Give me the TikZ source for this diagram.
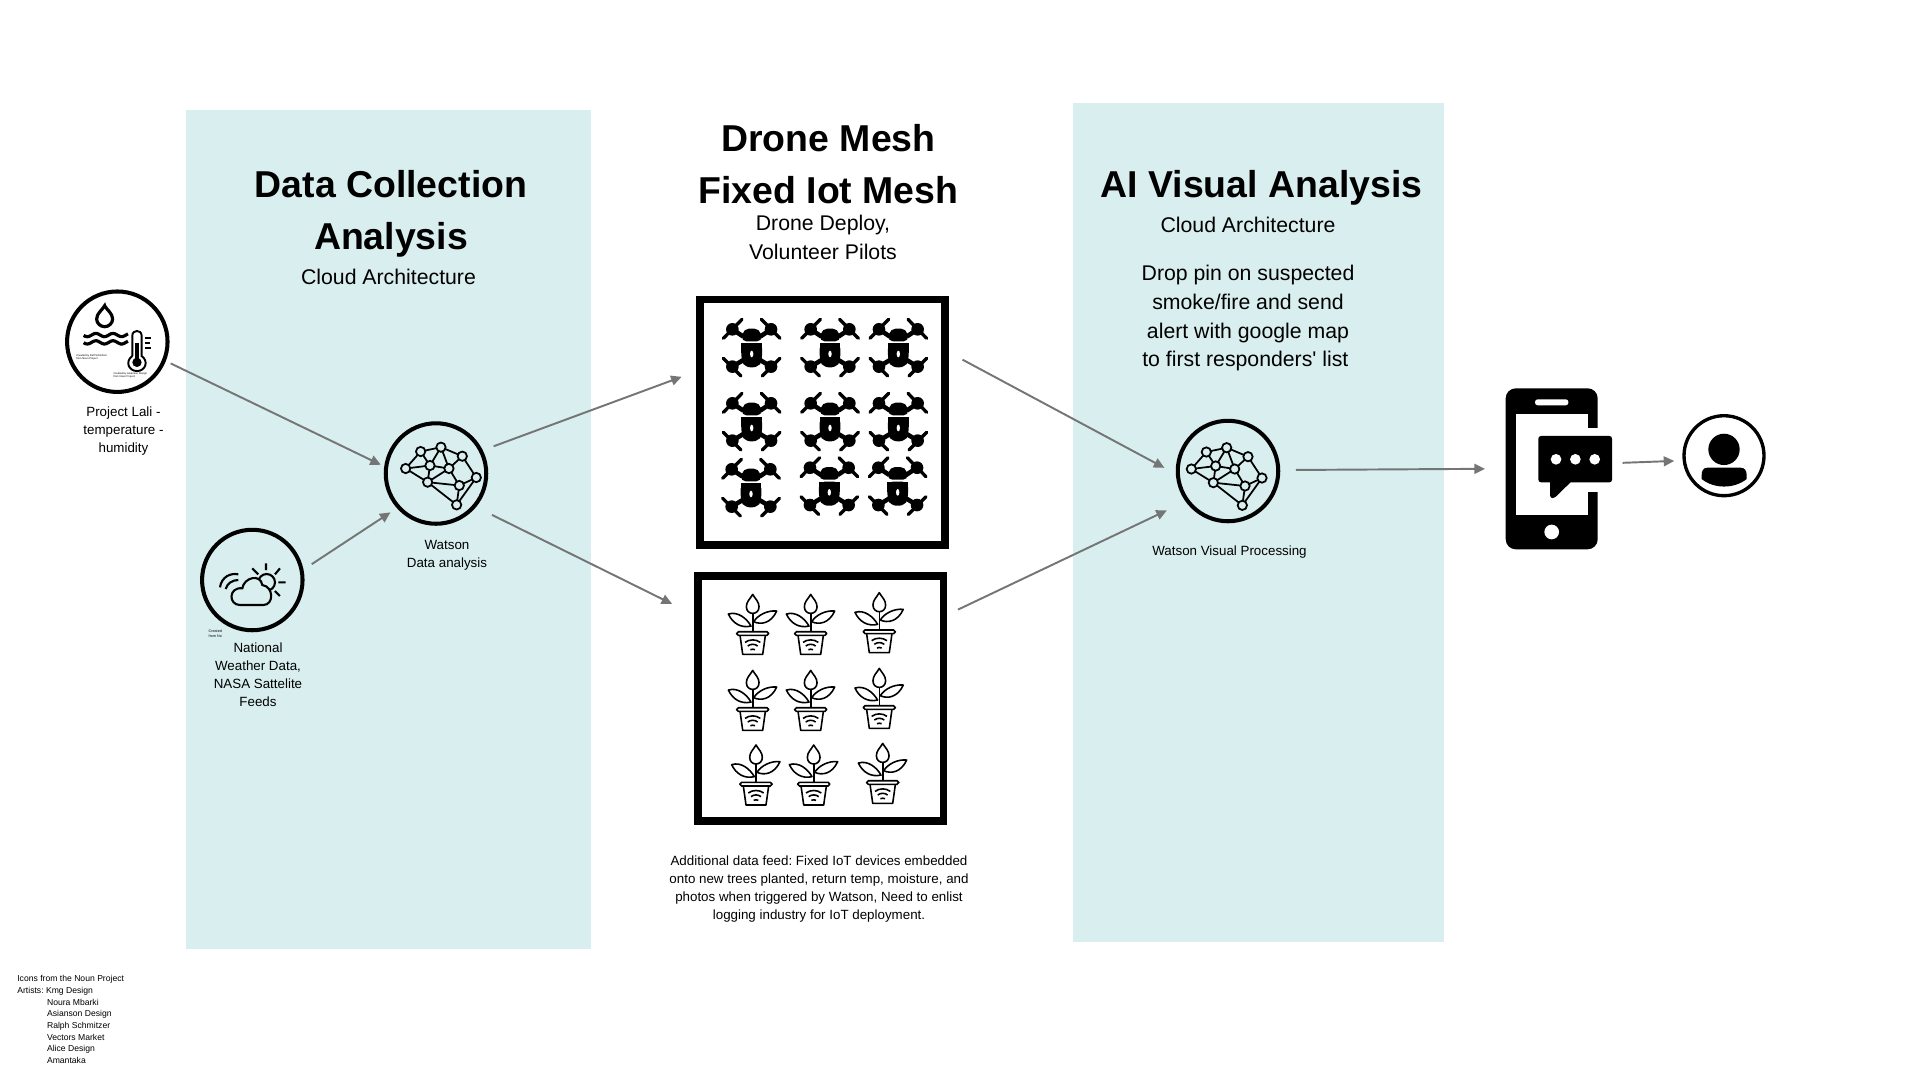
\documentclass[tikz,border=0pt]{standalone}
\usepackage{fontspec}
\setmainfont{Liberation Sans}[Ligatures=TeXOff]
\frenchspacing
\usepackage{xcolor}
\usepackage{tikz}
\usetikzlibrary{arrows.meta}
\definecolor{panelteal}{HTML}{D9EEEE}
\definecolor{arrowgrey}{HTML}{757575}
\tikzset{
flow/.style={-{Triangle[length=6pt,width=5.6pt]},line width=1.1pt,arrowgrey},
ring/.style={circle,draw,line width=2.3pt,minimum size=2.01cm,inner sep=0pt,outer sep=3.2pt},
framebox/.style={rectangle,draw,line width=4.4pt,minimum size=4.906cm,inner sep=0pt,outer sep=9.9pt},
headline/.style={font=\fontsize{21.3}{29.6}\selectfont\bfseries,align=center},
subline/.style={font=\fontsize{12.1}{13.5}\selectfont,align=center},
bodyline/.style={font=\fontsize{12.1}{16.5}\selectfont,align=center},
smallline/.style={font=\fontsize{7.6}{10.25}\selectfont,align=center},
tinyline/.style={font=\fontsize{1.5}{1.9}\selectfont,align=left,inner sep=0pt},
netmap/.pic={
\foreach \i/\u/\v in {1/-110/-6,2/-65/-57,3/-4/-70,4/60/-43,5/-37/-15,6/20/-6,7/102/21,8/-44/35,9/51/45,10/43/103}
\coordinate (n\i) at (\u,\v);
\foreach \a/\b in {1/2,2/3,3/4,2/5,3/5,3/6,4/6,5/6,1/5,1/8,5/8,6/8,6/9,8/9,8/10,9/10,7/9,7/10,4/7}
\draw[line width=1pt](n\a)--(n\b);
\foreach \i in {1,...,10}
\draw[line width=1pt,fill=panelteal](n\i)circle[radius=14];
},
waterlevel/.pic={
\draw[line width=1.8pt](-38,-108)..controls(-45,-95)and(-62,-85)..(-62,-68)..controls(-62,-55)and(-50,-45)..(-38,-45)..controls(-26,-45)and(-14,-55)..(-14,-68)..controls(-14,-85)and(-31,-95)..cycle;
\draw[line width=1.8pt,smooth,domain=-101:32,samples=25,variable=\x]plot(\x,{-20+5*sin(\x*7)});
\draw[line width=1.8pt,smooth,domain=-101:32,samples=25,variable=\x]plot(\x,{2+5*sin(\x*7)});
\draw[line width=1.1pt](45,43)--(45,-18)..controls(45,-37)and(73,-37)..(73,-18)--(73,43)..controls(95,58)and(85,88)..(59,88)..controls(33,88)and(23,58)..(45,43);
\draw[line width=1.8pt](59,5)--(59,62);
\fill(59,62)circle[radius=14];
\draw[line width=1.1pt](82,-12)--(102,-12)(82,3)--(97,3)(82,18)--(102,18);
},
weathersun/.pic={
\draw[line width=1.2pt](43,7)circle[radius=25];
\draw[line width=1.2pt](0,-35)--(18,-17)(41,-50)--(41,-30)(83,-35)--(68,-17)(78,7)--(100,7)(68,33)--(83,48);
\draw[line width=1.2pt,fill=panelteal](-37,75)..controls(-72,75)and(-72,20)..(-30,25)..controls(-25,-8)and(25,-20)..(30,15)..controls(65,20)and(65,75)..(33,75)--cycle;
\draw[line width=1.2pt](-97,22)..controls(-92,-10)and(-65,-22)..(-42,-17);
\draw[line width=1.2pt](-80,27)..controls(-75,10)and(-60,0)..(-42,0);
},
drone/.pic={
\foreach \s in {1,-1}{
\fill(\s*58,-42)circle[radius=19];
\fill(\s*58,70)circle[radius=19];
\draw[line width=1.9pt,line cap=round](\s*85,-15)--(\s*29,-72);
\draw[line width=1.9pt,line cap=round](\s*85,45)--(\s*32,98);
\draw[line width=2.6pt](\s*58,-42)--(\s*25,-20);
\draw[line width=2.6pt](\s*58,70)--(\s*25,50);
}
\fill[rounded corners=3pt](-32,-6)--(-24,-44)--(24,-44)--(32,-6)--cycle;
\fill[rounded corners=3pt](-31,0)--(31,0)--(31,50)--(20,72)--(-20,72)--(-31,50)--cycle;
\fill(-31,0)rectangle(31,30);
\fill[white](0,32)ellipse[x radius=5,y radius=10];
},
planter/.pic={
\draw[line width=.9pt,line join=round](0,-112)..controls(-8,-98)and(-19,-90)..(-19,-75)..controls(-19,-62)and(-10,-55)..(0,-55)..controls(10,-55)and(19,-62)..(19,-75)..controls(19,-90)and(8,-98)..cycle;
\draw[line width=.9pt](0,-55)--(0,0);
\draw[line width=.9pt,line join=round](-73,-53)..controls(-45,-62)and(-18,-40)..(-5,-17)..controls(-35,-10)and(-60,-25)..cycle;
\draw[line width=.9pt,line join=round](72,-62)..controls(45,-65)and(15,-50)..(3,-30)..controls(25,-20)and(55,-25)..cycle;
\draw[line width=.9pt,rounded corners=1pt](-48,0)rectangle(48,11);
\draw[line width=.9pt,line join=round](-38,11)--(-30,68)--(30,68)--(38,11);
\draw[line width=.9pt](-23,32)..controls(-10,22)and(10,22)..(23,32);
\draw[line width=.9pt](-15,43)..controls(-6,36)and(6,36)..(15,43);
\draw[line width=.9pt](-7,54)..controls(-3,52)and(3,52)..(7,54);
},
handset/.pic={
\fill[rounded corners=5.7pt](-138,-241.5)rectangle(138,241.5);
\fill[white](-108,-163.5)rectangle(108,138.5);
\fill[white,rounded corners=1.5pt](-50,-208.5)rectangle(50,-190.5);
\fill[white](0,189.5)circle[radius=22];
\fill[white](108,-123.5)rectangle(145,68.5);
\fill[rounded corners=1.5pt](-40,-98.5)rectangle(181,40.5);
\fill[rounded corners=1.5pt](-5,30)--(-5,88)--(8,88)--(62,35)--cycle;
\foreach \u in {13,71,129}
\fill[white](\u,-28.5)circle[radius=16];
},
person/.pic={
\fill(0,-19)circle[radius=47];
\fill(-50,36)--(50,36)..controls(62,36)and(68,45)..(68,58)--(68,70)..controls(30,100)and(-30,100)..(-67,70)--(-67,58)..controls(-67,45)and(-62,36)..(-50,36);
}
}
\begin{document}
\begin{tikzpicture}[x=0.02cm,y=-0.02cm]
\useasboundingbox(0,0)rectangle(1920,1080);
\fill[panelteal](186,110)rectangle(591,949);
\fill[panelteal](1073,103)rectangle(1444,942);
%%%
\node[headline](collecthead)at(391,214){Data Collection\\Analysis};
\node[subline](collectsub)at(388.5,277){Cloud Architecture};
\node[headline](meshhead)at(828.5,164){Drone Mesh\\Fixed Iot Mesh};
\node[bodyline](meshsub)at(823,237){Drone Deploy,\\Volunteer Pilots};
\node[headline](visualhead)at(1261.5,188){AI Visual Analysis};
\node[subline](visualsub)at(1248,225){Cloud Architecture};
\node[bodyline](dropnote)at(1248,318){Drop pin on suspected\\smoke/fire and send\\alert with google map\\to first responders' list\hspace*{3pt}};
%%%
\node[ring](lali)at(117.3,341.7){};
\node[ring](weather)at(252.3,580){};
\node[ring](watson)at(436,473.5){};
\node[ring](visual)at(1228,471){};
\node[framebox](drones)at(822.5,422){};
\node[framebox,outer sep=8.3pt](plants)at(820.8,698.7){};
\node[circle,minimum size=1.6cm,inner sep=0pt,outer sep=5.7pt,draw,line width=1.9pt](user)at(1724,455.7){};
\node[rectangle,minimum width=1.84cm,minimum height=3.22cm,inner sep=0pt,outer sep=11.8pt](phone)at(1551.7,468.8){};
%%%
\pic[scale=.3333]at(lali){waterlevel};
\pic[scale=.3333]at(weather){weathersun};
\pic[scale=.3333]at([shift={(6.3,-3)}]watson){netmap};
\pic[scale=.3333]at(visual){netmap};
\pic[scale=.3333]at(phone){handset};
\pic[scale=.3333]at(user){person};
\foreach \u/\v in {751.7/343.3,830/343.3,898.3/343.3,751.7/417.3,830/417.3,898.3/417.3,751/483.3,829.3/481.7,897.7/481.7}
\pic[scale=.3333]at(\u,\v){drone};
\foreach \u/\v in {752.7/631.7,810.7/631.7,879.3/630,752.7/707.7,810.7/707.7,879.3/705.7,756/782.3,813.7/782.3,882.7/780.7}
\pic[scale=.3333]at(\u,\v){planter};
%%%
\node[tinyline](lalicredita)at(91.7,357.3){Created by Ralf Schmitzer\\from Noun Project};
\node[tinyline](lalicreditb)at(130.3,375){Created by Asianson Design\\from Noun Project};
\node[tinyline,font=\fontsize{2.1}{2.7}\selectfont](weathercredit)at(215.3,633.3){Created\\from No};
\node[smallline](lalilabel)at(123.5,431.5){Project Lali -\\temperature -\\humidity};
\node[smallline](weatherlabel)at(258,674.7){National\\Weather Data,\\NASA Sattelite\\Feeds};
\node[smallline](watsonlabel)at(447,555){Watson\\Data analysis};
\node[smallline](visuallabel)at(1229.5,552.5){Watson Visual Processing};
\node[smallline](feednote)at(819,889.5){Additional data feed: Fixed IoT devices embedded\\onto new trees planted, return temp, moisture, and\\photos when triggered by Watson, Need to enlist\\logging industry for IoT deployment.};
\node[font=\fontsize{4.9}{6.66}\selectfont,align=left,anchor=west,inner sep=0pt](credits)at(17,1019.5){Icons from the Noun Project\\Artists: Kmg Design\\\hspace*{16.9pt}Noura Mbarki\\\hspace*{16.9pt}Asianson Design\\\hspace*{16.9pt}Ralph Schmitzer\\\hspace*{16.9pt}Vectors Market\\\hspace*{16.9pt}Alice Design\\\hspace*{16.9pt}Amantaka};
%%%
\draw[flow,shorten <=1pt](lali.-22.5)--(watson.171.6);
\draw[flow,shorten <=3.4pt,shorten >=2.3pt](weather.13)--(watson.221.6);
\draw[flow,shorten <=4.5pt,shorten >=.5pt](watson.26.2)--(drones.162.4);
\draw[flow,shorten <=8pt,shorten >=7.3pt](watson.-39.8)--(plants.147.4);
\draw[flow,shorten >=5pt](drones.24.3)--(visual.181.8);
\draw[flow,shorten >=9.7pt](plants.33.8)--(visual.215);
\draw[flow,shorten <=6.8pt](visual.1.5)--(phone.180);
\draw[flow,shorten <=2.4pt](phone.5.8)--(user.186.7);
\end{tikzpicture}
\end{document}
